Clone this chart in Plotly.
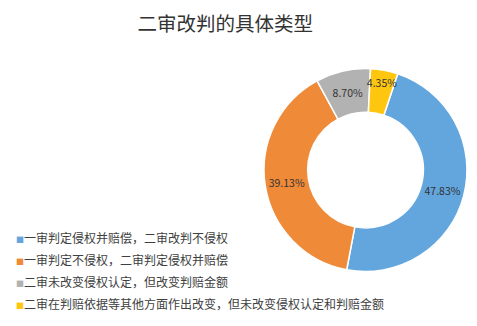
import plotly.graph_objects as go

categories = [
    "一审判定侵权并赔偿，二审改判不侵权",
    "一审判定不侵权，二审判定侵权并赔偿",
    "二审未改变侵权认定，但改变判赔金额",
    "二审在判赔依据等其他方面作出改变，但未改变侵权认定和判赔金额",
]
values = [47.83, 39.13, 8.70, 4.35]
colors = ["#62A6DD", "#EE8A38", "#B2B2B2", "#FFC610"]

font_family = "Noto Sans CJK SC, Noto Sans, sans-serif"
W, H = 477, 326

fig = go.Figure(go.Pie(
    labels=categories,
    values=values,
    sort=False,
    direction="clockwise",
    rotation=18.5,
    hole=0.57,
    showlegend=False,
    marker=dict(colors=colors, line=dict(color="white", width=1.5)),
    texttemplate="%{value:.2f}%",
    textposition="inside",
    insidetextorientation="horizontal",
    textfont=dict(size=10.5, color="#333333", family=font_family),
    domain=dict(x=[0.5535, 0.979], y=[0.167, 0.790]),
))

# legend drawn as text lines (square marker + label)
annotations = []
legend_top_px = 237
legend_step_px = 22
for i, (cat, col) in enumerate(zip(categories, colors)):
    ypx = legend_top_px + i * legend_step_px
    annotations.append(dict(
        xref="paper", yref="paper",
        x=14 / W, y=1 - ypx / H,
        xanchor="left", yanchor="middle",
        showarrow=False,
        text=f"<span style='color:{col};font-size:8px'>■</span>{cat}",
        font=dict(size=12, color="#404040", family=font_family),
    ))

fig.update_layout(
    width=W, height=H,
    margin=dict(l=0, r=0, t=0, b=0),
    paper_bgcolor="white",
    plot_bgcolor="white",
    font=dict(family=font_family),
    uniformtext=dict(minsize=10.5, mode="show"),
    title=dict(
        text="二审改判的具体类型",
        x=0.472, xanchor="center",
        y=0.926, yanchor="middle",
        font=dict(size=19.5, color="#333333", family=font_family),
    ),
    annotations=annotations,
)

fig.write_html("out.html")
